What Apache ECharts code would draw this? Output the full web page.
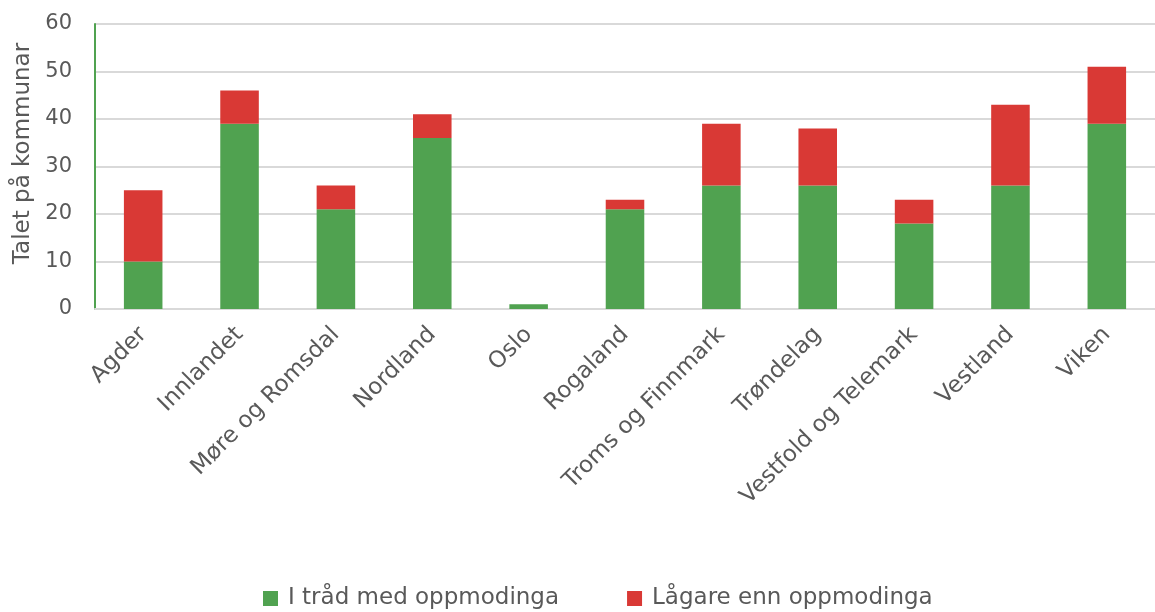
<!DOCTYPE html>
<html>
<head>
<meta charset="utf-8">
<script src="https://cdn.jsdelivr.net/npm/echarts@6/dist/echarts.min.js"></script>
<style>
    html, body { margin: 0; padding: 0; background: #fff; }
    #chart { width: 1155px; height: 612px; }
</style>
</head>
<body>
<div id="chart"></div>
<script>
    const categories = ['Agder', 'Innlandet', 'Møre og Romsdal', 'Nordland', 'Oslo', 'Rogaland',
        'Troms og Finnmark', 'Trøndelag', 'Vestfold og Telemark', 'Vestland', 'Viken'];
    const iTraad = [10, 39, 21, 36, 1, 21, 26, 26, 18, 26, 39];
    const laagare = [15, 7, 5, 5, 0, 2, 13, 12, 5, 17, 12];
    const yTicks = [0, 10, 20, 30, 40, 50, 60];

    const font = 'DejaVu Sans';
    const chart = echarts.init(document.getElementById('chart'));
    chart.setOption({
        animation: false,
        color: ['#50a250', '#d93935'],
        textStyle: { fontFamily: font },
        grid: { left: 95, top: 24, width: 1069, height: 285 },
        legend: {
            bottom: 2,
            left: 263,
            padding: 0,
            itemWidth: 15,
            itemHeight: 15,
            itemGap: 68,
            icon: 'rect',
            selectedMode: false,
            textStyle: { fontSize: 23, color: '#595959', fontFamily: font, padding: [0, 0, 0, 5] },
            data: ['I tråd med oppmodinga', 'Lågare enn oppmodinga']
        },
        xAxis: {
            type: 'category',
            data: categories,
            axisTick: { show: false },
            axisLine: { lineStyle: { color: '#d9d9d9', width: 2 } },
            axisLabel: { rotate: 45, fontSize: 23, color: '#595959', margin: 22, interval: 0 }
        },
        yAxis: {
            type: 'value',
            min: yTicks[0],
            max: yTicks[yTicks.length - 1],
            interval: 10,
            name: 'Talet på kommunar',
            nameLocation: 'middle',
            nameGap: 59,
            nameTextStyle: { fontSize: 23, color: '#595959', padding: [0, 0, 0, 26] },
            axisLine: { show: true, lineStyle: { color: '#50a250', width: 2 } },
            axisTick: { show: false },
            axisLabel: { fontSize: 21, color: '#595959', margin: 23 },
            splitLine: { lineStyle: { color: '#d9d9d9', width: 2 } }
        },
        series: [{
            name: 'I tråd med oppmodinga',
            type: 'bar',
            stack: 'total',
            barWidth: '40%',
            data: iTraad
        }, {
            name: 'Lågare enn oppmodinga',
            type: 'bar',
            stack: 'total',
            barWidth: '40%',
            data: laagare
        }]
    });
</script>
</body>
</html>
